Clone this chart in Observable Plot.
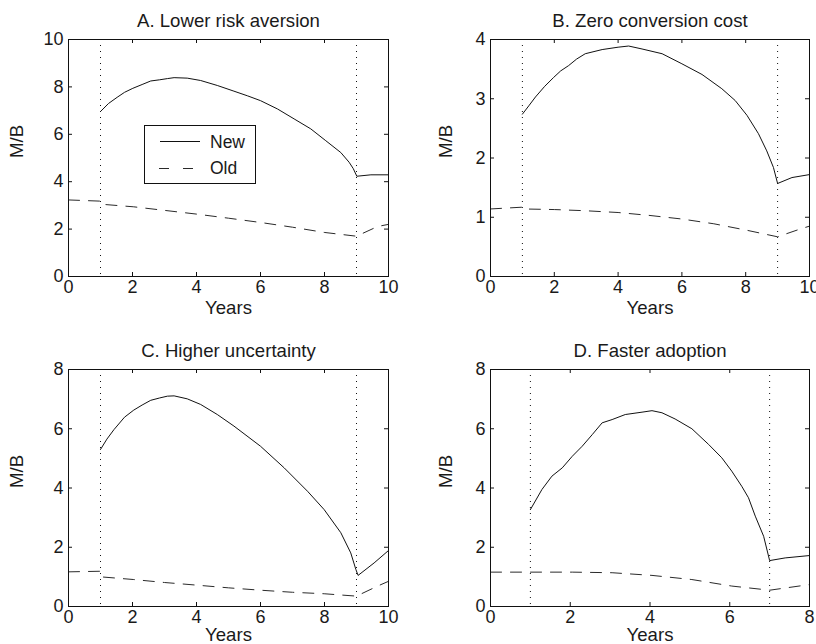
<!DOCTYPE html>
<html><head><meta charset="utf-8">
<script src="https://cdn.jsdelivr.net/npm/d3@7"></script>
<script src="https://cdn.jsdelivr.net/npm/@observablehq/plot@0.6"></script>
<style>
body{margin:0;background:#fff;}
#wrap{position:relative;width:816px;height:644px;overflow:hidden;background:#fff;}
.panel{position:absolute;}
#legend{position:absolute;left:144px;top:125px;}
</style></head><body><div id="wrap"></div>
<script>
// ---- data (Years, M/B) ----
const titleA = "A. Lower risk aversion";
const titleB = "B. Zero conversion cost";
const titleC = "C. Higher uncertainty";
const titleD = "D. Faster adoption";

const newA = [[1,6.96],[1.25,7.3],[1.52,7.56],[1.75,7.77],[2.01,7.94],[2.3,8.1],[2.57,8.25],[2.85,8.3],[3.09,8.35],[3.3,8.39],[3.71,8.37],[4.13,8.27],[4.65,8.06],[5.17,7.82],[5.6,7.62],[6.0,7.42],[6.53,7.07],[7.05,6.65],[7.57,6.23],[8.04,5.73],[8.51,5.23],[8.77,4.82],[8.9,4.55],[9.01,4.23],[9.45,4.29],[10,4.29]];
const oldA = [[0,3.23],[1,3.18],[1.02,3.05],[2.04,2.94],[3.0,2.79],[4.02,2.63],[5.0,2.46],[6.0,2.28],[7.0,2.08],[7.99,1.86],[9,1.70],[9.66,2.11],[10,2.2]];

const newB = [[1,2.74],[1.2,2.88],[1.41,3.03],[1.7,3.21],[1.98,3.36],[2.2,3.47],[2.45,3.56],[2.7,3.67],[2.97,3.76],[3.5,3.83],[4.0,3.87],[4.33,3.89],[4.75,3.84],[5.38,3.76],[6.0,3.59],[6.63,3.41],[7.25,3.17],[7.67,2.97],[8.04,2.72],[8.4,2.41],[8.66,2.12],[8.87,1.84],[9.0,1.57],[9.45,1.67],[10,1.72]];
const oldB = [[0,1.14],[1,1.17],[1.03,1.14],[2.0,1.13],[2.97,1.11],[4.0,1.08],[5.0,1.03],[6.0,0.97],[7.0,0.89],[8.04,0.78],[9,0.67],[9.7,0.80],[10,0.85]];

const newC = [[1,5.30],[1.2,5.65],[1.42,5.97],[1.75,6.39],[2.04,6.63],[2.3,6.8],[2.57,6.96],[2.85,7.04],[3.09,7.10],[3.3,7.11],[3.71,7.01],[4.13,6.82],[4.65,6.48],[5.17,6.09],[6.0,5.41],[6.74,4.68],[7.47,3.89],[7.99,3.27],[8.51,2.49],[8.82,1.81],[8.98,1.25],[9.05,1.05],[9.55,1.47],[10,1.89]];
const oldC = [[0,1.17],[1,1.19],[1.02,1.0],[2.04,0.91],[3.0,0.81],[4.02,0.72],[5.0,0.63],[6.0,0.55],[7.0,0.48],[7.99,0.43],[9,0.35],[9.66,0.69],[10,0.85]];

const newD = [[1,3.27],[1.29,3.95],[1.54,4.40],[1.80,4.68],[2.05,5.07],[2.30,5.41],[2.55,5.80],[2.80,6.20],[3.05,6.31],[3.38,6.48],[3.80,6.56],[4.05,6.61],[4.30,6.54],[4.63,6.33],[5.05,6.00],[5.47,5.47],[5.80,5.02],[6.05,4.57],[6.30,4.06],[6.47,3.67],[6.64,3.05],[6.85,2.37],[7.0,1.55],[7.39,1.64],[8,1.72]];
const oldD = [[0,1.16],[1,1.16],[2.05,1.16],[3.05,1.14],[4.05,1.05],[5.05,0.91],[6.05,0.69],[7.0,0.55],[8,0.74]];

const xTicks10 = [0,2,4,6,8,10];
const xTicks8 = [0,2,4,6,8];
const yTicksA = [0,2,4,6,8,10];
const yTicksB = [0,1,2,3,4];
const yTicks8 = [0,2,4,6,8];
const vlinesA = [1,9];
const vlinesD = [1,7];
const legendLabels = ["New","Old"];

const font = "'Liberation Sans', Arial, Helvetica, sans-serif";

function panel(o) {
  const W = 408, H = 322;
  const ph = H - o.mt - o.mb, pw = W - o.ml - o.mr;
  const X = d => d[0], Y = d => d[1];
  return Plot.plot({
    width: W, height: H,
    marginLeft: o.ml, marginRight: o.mr, marginTop: o.mt, marginBottom: o.mb,
    style: {fontFamily: font, fontSize: "18px", color: "#1a1a1a", background: "transparent"},
    x: {domain: [0, o.xMax]},
    y: {domain: [0, o.yMax]},
    marks: [
      Plot.ruleX(o.vlines, {x: d => d, stroke: "#111", strokeDasharray: "1,5", strokeWidth: 1}),
      Plot.line(o.oldData, {x: X, y: Y, stroke: "#2a2a2a", strokeDasharray: "11,9", strokeWidth: 1}),
      Plot.line(o.newData, {x: X, y: Y, stroke: "#111", strokeWidth: 1}),
      Plot.tickX(o.xTicks, {x: d => d, insetTop: ph - 4, stroke: "#111"}),
      Plot.tickX(o.xTicks, {x: d => d, insetBottom: ph - 4, stroke: "#111"}),
      Plot.tickY(o.yTicks, {y: d => d, insetRight: pw - 4, stroke: "#111"}),
      Plot.tickY(o.yTicks, {y: d => d, insetLeft: pw - 4, stroke: "#111"}),
      Plot.frame({stroke: "#111"}),
      Plot.axisX(o.xTicks, {tickSize: 0, tickPadding: 4, label: null, tickFormat: d => String(d)}),
      Plot.axisY(o.yTicks, {tickSize: 0, tickPadding: 5, label: null, tickFormat: d => String(d)}),
      Plot.text([o.title], {frameAnchor: "top", lineAnchor: "middle", dy: -18, fontSize: 18.6}),
      Plot.text(["Years"], {frameAnchor: "bottom", lineAnchor: "middle", dy: o.yearsDy, fontSize: 18.6}),
      Plot.text(["M/B"], {frameAnchor: "left", lineAnchor: "middle", dx: o.ylDx, rotate: -90, fontSize: 18.6})
    ]
  });
}

const wrap = document.getElementById("wrap");
const specs = [
  {left: 0, top: 0, title: titleA, xMax: 10, yMax: 10, xTicks: xTicks10, yTicks: yTicksA, vlines: vlinesA, newData: newA, oldData: oldA, ml: 68, mr: 20, mt: 39, mb: 46, yearsDy: 32, ylDx: -51},
  {left: 408, top: 0, title: titleB, xMax: 10, yMax: 4, xTicks: xTicks10, yTicks: yTicksB, vlines: vlinesA, newData: newB, oldData: oldB, ml: 82, mr: 7, mt: 39, mb: 46, yearsDy: 32, ylDx: -44},
  {left: 0, top: 322, title: titleC, xMax: 10, yMax: 8, xTicks: xTicks10, yTicks: yTicks8, vlines: vlinesA, newData: newC, oldData: oldC, ml: 68, mr: 20, mt: 47, mb: 38, yearsDy: 29, ylDx: -51},
  {left: 408, top: 322, title: titleD, xMax: 8, yMax: 8, xTicks: xTicks8, yTicks: yTicks8, vlines: vlinesD, newData: newD, oldData: oldD, ml: 82, mr: 7, mt: 47, mb: 38, yearsDy: 29, ylDx: -44}
];
for (const s of specs) {
  const p = panel(s);
  p.classList.add("panel");
  p.style.left = s.left + "px";
  p.style.top = s.top + "px";
  wrap.appendChild(p);
}

// legend box for panel A
const ns = "http://www.w3.org/2000/svg";
const lg = document.createElementNS(ns, "svg");
lg.setAttribute("id", "legend");
lg.setAttribute("width", 112);
lg.setAttribute("height", 59);
lg.innerHTML =
  `<rect x="0.5" y="0.5" width="111" height="58" fill="#fff" stroke="#111"/>` +
  `<line x1="16" x2="56" y1="16.5" y2="16.5" stroke="#111"/>` +
  `<line x1="15" x2="55" y1="43.5" y2="43.5" stroke="#2a2a2a" stroke-dasharray="10,14"/>` +
  `<text x="66" y="16.5" dy="0.35em" font-family="${font}" font-size="17.5" fill="#1a1a1a">${legendLabels[0]}</text>` +
  `<text x="66" y="43" dy="0.35em" font-family="${font}" font-size="17.5" fill="#1a1a1a">${legendLabels[1]}</text>`;
wrap.appendChild(lg);
</script>
</body></html>
